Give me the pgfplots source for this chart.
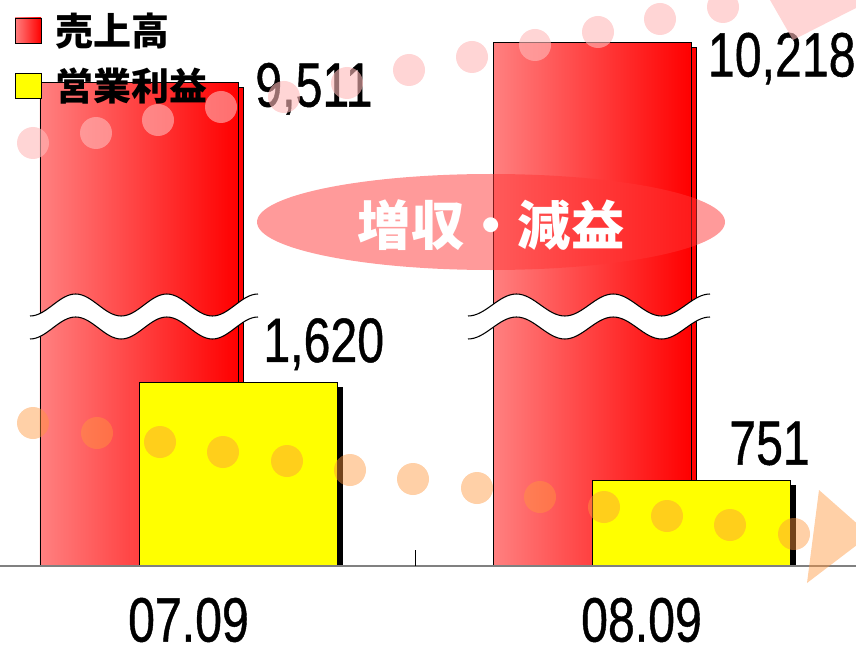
\documentclass[border=0pt]{standalone}
\usepackage{fontspec}
\setmainfont{Liberation Sans}
\newfontfamily\numfam{Liberation Sans}[FakeBold=0.8]
\newfontfamily\jp{Noto Sans CJK JP}
\usepackage{graphicx}
\usepackage{pgfplots}
\pgfplotsset{compat=1.18}
\usetikzlibrary{shadows}
\definecolor{barlight}{RGB}{255,128,128}
\definecolor{bardark}{RGB}{255,0,0}
\definecolor{ylw}{RGB}{255,255,0}
\definecolor{ell}{RGB}{255,53,53}
\definecolor{pinkdot}{RGB}{255,185,185}
\definecolor{orgdot}{RGB}{255,150,60}
\definecolor{axgray}{RGB}{128,128,128}
\newcommand\numfont{\numfam\fontsize{47}{47}\selectfont}
\newcommand\num[1]{\scalebox{0.77}[1]{#1}}
\pgfplotsset{
  redbar/.style={ybar, bar shift=-0.10927, draw=black, line width=0.5pt,
    left color=barlight, right color=bardark,
    drop shadow={shadow xshift=3.75pt, shadow yshift=-3.75pt, fill=black, opacity=1},
    y filter/.expression={0.5*y-500},
    point meta=explicit symbolic, nodes near coords={\num{\pgfplotspointmeta}}},
  ylwbar/.style={ybar, bar shift=0.10927, draw=black, line width=0.5pt, fill=ylw,
    drop shadow={shadow xshift=3.75pt, shadow yshift=-3.75pt, fill=black, opacity=1},
    point meta=explicit symbolic, nodes near coords={\num{\pgfplotspointmeta}}},
}
\begin{document}
\begin{tikzpicture}
\begin{axis}[at={(0,0)}, anchor=south west, scale only axis,
  width=642pt, height=424.5pt,
  xmin=-0.41611, xmax=1.47351, ymin=0, ymax=4983,
  axis line style={draw=none}, ytick=\empty,
  xtick={0,1}, xticklabels={\num{07.09},\num{08.09}}, major tick length=0pt,
  xticklabel style={anchor=center, inner sep=0pt, yshift=-40.5pt, font=\numfont, text=black},
  bar width=0.4371]
% 売上高 (broken axis: shown compressed)
\addplot[redbar, every node near coord/.append style={anchor=base west, inner sep=0pt, xshift=49.9pt, yshift=-18pt, font=\numfont, text=black}]
  coordinates {(0,9511) [9,511]};
\addplot[redbar, every node near coord/.append style={anchor=base west, inner sep=0pt, xshift=49.6pt, yshift=-25.5pt, font=\numfont, text=black}]
  coordinates {(1,10218) [10,218]};
% 営業利益
\addplot[ylwbar, every node near coord/.append style={anchor=base west, inner sep=0pt, xshift=55.9pt, yshift=15pt, font=\numfont, text=black}]
  coordinates {(0,1620) [1,620]};
\addplot[ylwbar, every node near coord/.append style={anchor=base west, inner sep=0pt, xshift=65.6pt, yshift=12pt, font=\numfont, text=black}]
  coordinates {(1,751) [751]};
\end{axis}
\begin{scope}[x=0.75pt, y=-0.75pt, shift={(0pt,424.5pt)}]
  % base line and separator tick
  \draw[axgray, line width=1.5pt] (0,566) -- (856,566);
  \draw[black, line width=0.6pt] (415,550) -- (415,566);
  % wavy break marks
  \foreach \xo/\q in {30/45.6, 468/48.4}{
    \begin{scope}[shift={(\xo,0)}, xscale=\q]
      \fill[white] (0,316) cos (0.5,305) sin (1,294) cos (1.5,305) sin (2,316) cos (2.5,305) sin (3,294) cos (3.5,305) sin (4,316) cos (4.5,305) sin (5,294)
        -- (5,317) cos (4.5,328) sin (4,339) cos (3.5,328) sin (3,317) cos (2.5,328) sin (2,339) cos (1.5,328) sin (1,317) cos (0.5,328) sin (0,339) -- cycle;
      \draw[black, line width=0.8pt] (0,316) cos (0.5,305) sin (1,294) cos (1.5,305) sin (2,316) cos (2.5,305) sin (3,294) cos (3.5,305) sin (4,316) cos (4.5,305) sin (5,294);
      \draw[black, line width=0.8pt] (0,339) cos (0.5,328) sin (1,317) cos (1.5,328) sin (2,339) cos (2.5,328) sin (3,317) cos (3.5,328) sin (4,339) cos (4.5,328) sin (5,317);
    \end{scope}
  }
  % legend
  \draw[black, line width=0.5pt, left color=barlight, right color=bardark] (15,18) rectangle (41,43);
  \draw[black, line width=0.5pt, fill=ylw] (15,73) rectangle (41,98);
  \node[anchor=west, inner sep=0pt, font=\jp\bfseries\fontsize{28.5}{28.5}\selectfont] at (55,31) {売上高};
  \node[anchor=west, inner sep=0pt, font=\jp\bfseries\fontsize{28.5}{28.5}\selectfont] at (55,86) {営業利益};
  % ellipse
  \fill[ell, opacity=0.5] (491,222) ellipse [x radius=234, y radius=48];
  \node[text=white, font=\jp\bfseries\fontsize{40}{40}\selectfont] at (491,225) {増収・減益};
  % decorative dots
  \foreach \px/\py in {33/143, 96/133, 158/120, 221/107, 284/97, 347/83, 409/70, 472/57, 535/45, 598/32, 660/19, 723/7}
    \fill[pinkdot, opacity=0.6] (\px,\py) circle [radius=16];
  \fill[pinkdot, opacity=0.6] (770,0) -- (856,0) -- (856,8) -- (793,40) -- cycle;
  \foreach \px/\py in {33/423, 97/433, 160/442, 223/452, 287/461, 350/470, 413/479, 477/488, 540/497, 604/507, 667/516, 730/525, 794/534}
    \fill[orgdot, opacity=0.45] (\px,\py) circle [radius=16];
  \fill[orgdot, opacity=0.45] (819,490) -- (870,535) -- (807,583) -- cycle;
\end{scope}
\pgfresetboundingbox
\path (0pt,-60.75pt) rectangle (642pt,424.5pt);
\end{tikzpicture}
\end{document}
